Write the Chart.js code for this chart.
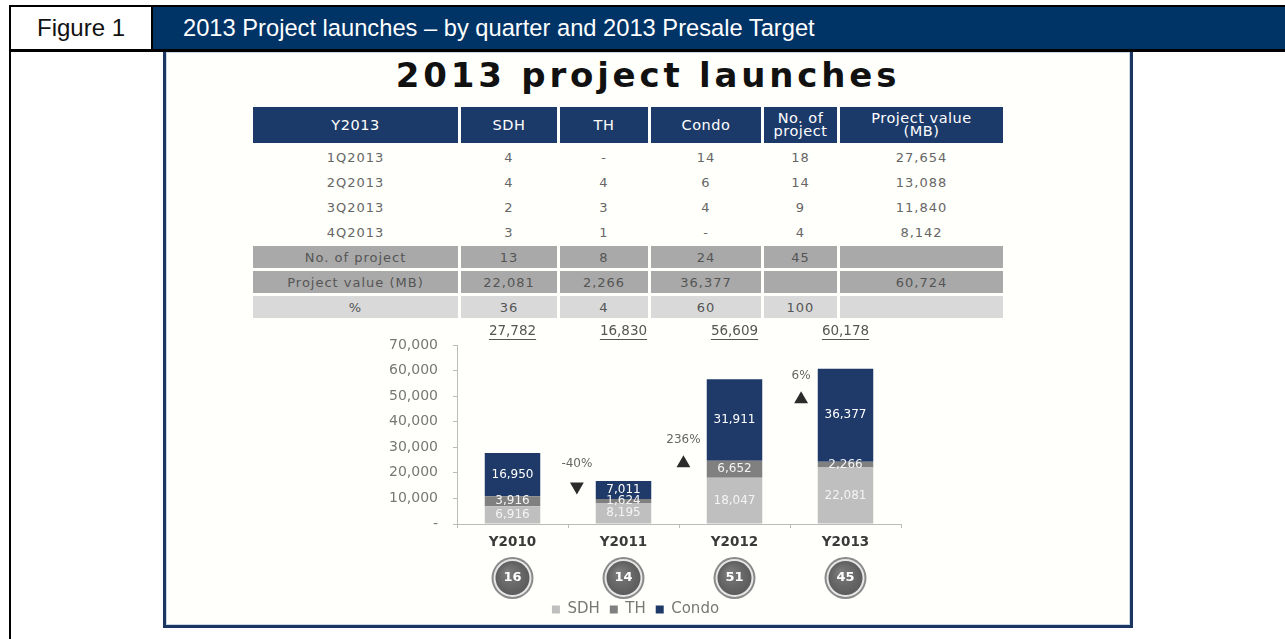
<!DOCTYPE html>
<html lang="en">
<head>
<meta charset="UTF-8" />
<title>2013 project launches</title>
<script src="https://cdn.jsdelivr.net/npm/chart.js"></script>
<style>
  body {
    margin: 0;
    width: 1285px;
    height: 639px;
    background: #fff;
    position: relative;
    overflow: hidden;
    font-family: "Liberation Sans", Arial, sans-serif;
  }
  .topline { position: absolute; left: 9px; top: 5px; width: 1276px; height: 2px; background: #000; }
  .leftline { position: absolute; left: 9px; top: 5px; width: 2px; height: 634px; background: #000; }
  .midline { position: absolute; left: 9px; top: 49px; width: 1276px; height: 3px; background: #000; }
  .figlabel {
    position: absolute; left: 11px; top: 7px; width: 140px; height: 42px;
    display: flex; align-items: center; justify-content: center;
    font-size: 24px; color: #111;
  }
  .figtitle {
    position: absolute; left: 151px; top: 7px; width: 1134px; height: 42px;
    background: #003366; color: #fff; font-size: 23.7px; line-height: 42px;
    padding-left: 30px; box-sizing: border-box; border-left: 2px solid #000;
  }
  .frame {
    position: absolute; left: 163px; top: 49px; width: 970px; height: 579px;
    border: 3px solid #1b3660; box-sizing: border-box;
    background: #fffffb;
    box-shadow: inset 0 0 0 1px #c9d6e6;
  }
  .title {
    position: absolute; left: 163px; top: 55px; width: 970px; text-align: center;
    font-family: "DejaVu Sans", sans-serif; font-weight: bold; font-size: 34px;
    line-height: 40px; letter-spacing: 3.8px; color: #111;
  }
  table.launch {
    position: absolute; left: 250px; top: 104px;
    border-collapse: separate; border-spacing: 3px;
    font-family: "DejaVu Sans", sans-serif; font-size: 13px; letter-spacing: 1px;
    color: #666; table-layout: fixed;
  }
  table.launch th {
    background: #1c3a69; color: #fff; font-weight: normal; height: 36px; padding: 0;
    font-size: 14.5px; line-height: 13px; letter-spacing: 0.5px;
  }
  table.launch td { height: 22px; padding: 0; text-align: center; }
  table.launch tr.sum td { background: #a9a9a9; color: #555; }
  table.launch tr.pct td { background: #d9d9d9; color: #555; }
  #chartBox { position: absolute; left: 370px; top: 318px; width: 560px; height: 312px; }
</style>
</head>
<body>
  <div class="topline"></div>
  <div class="leftline"></div>
  <div class="figlabel">Figure 1</div>
  <div class="figtitle">2013 Project launches – by quarter and 2013 Presale Target</div>
  <div class="frame"></div>
  <div class="midline"></div>
  <div class="title">2013 project launches</div>

  <table class="launch" id="launchTable"></table>

  <div id="chartBox"><canvas id="chart" width="560" height="312"></canvas></div>

  <script>
    // table data
    const tableHead = ['Y2013', 'SDH', 'TH', 'Condo', 'No. of<br>project', 'Project value<br>(MB)'];
    const colWidths = [205, 96, 88, 110, 73, 163];
    const quarterRows = [
      ['1Q2013', '4', '-', '14', '18', '27,654'],
      ['2Q2013', '4', '4', '6', '14', '13,088'],
      ['3Q2013', '2', '3', '4', '9', '11,840'],
      ['4Q2013', '3', '1', '-', '4', '8,142']
    ];
    const projectRow = ['No. of project', '13', '8', '24', '45', ''];
    const valueRow = ['Project value (MB)', '22,081', '2,266', '36,377', '', '60,724'];
    const pctRow = ['%', '36', '4', '60', '100', ''];

    // chart data
    const years = ['Y2010', 'Y2011', 'Y2012', 'Y2013'];
    const sdh = [6916, 8195, 18047, 22081];
    const th = [3916, 1624, 6652, 2266];
    const condo = [16950, 7011, 31911, 36377];
    const totals = ['27,782', '16,830', '56,609', '60,178'];
    const projectCounts = [16, 14, 51, 45];
    const changePos = [0.58, 1.54, 2.6];
    const changeVal = [14700, 23800, 48800];
    const changeText = ['-40%', '236%', '6%'];
    const changeDir = ['down', 'up', 'up'];

    const table = document.getElementById('launchTable');
    let html = '<colgroup>' + colWidths.map(w => '<col style="width:' + w + 'px">').join('') + '</colgroup>';
    html += '<tr>' + tableHead.map(h => '<th>' + h + '</th>').join('') + '</tr>';
    quarterRows.forEach(r => { html += '<tr>' + r.map(c => '<td>' + c + '</td>').join('') + '</tr>'; });
    html += '<tr class="sum">' + projectRow.map(c => '<td>' + c + '</td>').join('') + '</tr>';
    html += '<tr class="sum">' + valueRow.map(c => '<td>' + c + '</td>').join('') + '</tr>';
    html += '<tr class="pct">' + pctRow.map(c => '<td>' + c + '</td>').join('') + '</tr>';
    table.innerHTML = html;

    const FONT = '"DejaVu Sans", sans-serif';
    const labelColors = ['#f4f4f4', '#f4f4f4', '#ffffff'];

    const extras = {
      id: 'extras',
      afterDatasetsDraw(chart) {
        const c = chart.ctx;
        const area = chart.chartArea;
        c.save();
        c.textAlign = 'center';
        c.textBaseline = 'middle';

        // values inside the stacked segments
        c.font = '12px ' + FONT;
        [sdh, th, condo].forEach((vals, di) => {
          chart.getDatasetMeta(di).data.forEach((el, i) => {
            c.fillStyle = labelColors[di];
            c.fillText(vals[i].toLocaleString('en-US'), el.x, (el.y + el.base) / 2);
          });
        });

        // underlined totals above the plot
        c.font = '13.5px ' + FONT;
        c.fillStyle = '#555';
        c.strokeStyle = '#555';
        c.lineWidth = 1;
        chart.getDatasetMeta(0).data.forEach((el, i) => {
          const y = area.top - 14;
          c.fillText(totals[i], el.x, y);
          const w = c.measureText(totals[i]).width;
          c.beginPath();
          c.moveTo(el.x - w / 2, y + 8.5);
          c.lineTo(el.x + w / 2, y + 8.5);
          c.stroke();
        });

        // change percentages above the triangles
        c.font = '12px ' + FONT;
        c.fillStyle = '#666';
        chart.getDatasetMeta(3).data.forEach((pt, i) => {
          c.fillText(changeText[i], pt.x, pt.y - 23);
        });

        // project count bubbles
        const xs = chart.scales.x;
        projectCounts.forEach((n, i) => {
          const x = xs.getPixelForValue(i);
          const y = area.bottom + 54;
          c.beginPath();
          c.arc(x, y, 21, 0, Math.PI * 2);
          c.fillStyle = '#8a8a8a';
          c.fill();
          c.beginPath();
          c.arc(x, y, 19, 0, Math.PI * 2);
          c.fillStyle = '#e6e6e6';
          c.fill();
          const g = c.createRadialGradient(x - 5, y - 6, 2, x, y, 18);
          g.addColorStop(0, '#7a7a7a');
          g.addColorStop(1, '#5a5a5a');
          c.beginPath();
          c.arc(x, y, 17, 0, Math.PI * 2);
          c.fillStyle = g;
          c.fill();
          c.fillStyle = '#fff';
          c.font = 'bold 13px ' + FONT;
          c.fillText(String(n), x, y);
        });
        c.restore();
      }
    };

    new Chart(document.getElementById('chart').getContext('2d'), {
      type: 'bar',
      data: {
        labels: years,
        datasets: [
          { label: 'SDH', data: sdh, backgroundColor: '#bfbfbf', stack: 'total' },
          { label: 'TH', data: th, backgroundColor: '#808080', stack: 'total' },
          { label: 'Condo', data: condo, backgroundColor: '#1f3a68', stack: 'total' },
          {
            type: 'scatter',
            label: 'change',
            xAxisID: 'x2',
            order: -1,
            data: changePos.map((x, i) => ({ x: x, y: changeVal[i] })),
            pointStyle: 'triangle',
            pointRadius: 8,
            pointRotation: ctx => changeDir[ctx.dataIndex] === 'down' ? 180 : 0,
            backgroundColor: '#2b2b2b',
            borderColor: '#2b2b2b',
            borderWidth: 0
          }
        ]
      },
      options: {
        responsive: false,
        animation: false,
        layout: { padding: { top: 27, right: 29, left: 0, bottom: 3 } },
        datasets: { bar: { barPercentage: 0.5, categoryPercentage: 1, grouped: false } },
        scales: {
          x: {
            stacked: true,
            grid: { drawOnChartArea: false, tickLength: 4, color: '#bbb' },
            border: { color: '#bbb' },
            ticks: { padding: 6, color: '#3a3a3a', font: { family: FONT, size: 13.5, weight: 'bold' } },
            afterFit: s => { s.height = 68; }
          },
          x2: { type: 'linear', display: false, offset: false, min: -0.5, max: 3.5 },
          y: {
            stacked: true,
            min: 0,
            max: 70000,
            grid: { drawOnChartArea: false, tickLength: 4, color: '#bbb' },
            border: { color: '#bbb' },
            ticks: {
              stepSize: 10000,
              padding: 15,
              color: '#777',
              font: { family: FONT, size: 14 },
              callback: v => v === 0 ? '-' : v.toLocaleString('en-US')
            },
            afterFit: s => { s.width = 87; }
          }
        },
        plugins: {
          legend: {
            position: 'bottom',
            labels: {
              boxWidth: 8,
              boxHeight: 8,
              padding: 10,
              color: '#777',
              font: { family: FONT, size: 15 },
              filter: item => item.datasetIndex < 3
            }
          },
          tooltip: { enabled: false }
        }
      },
      plugins: [extras]
    });
  </script>
</body>
</html>
